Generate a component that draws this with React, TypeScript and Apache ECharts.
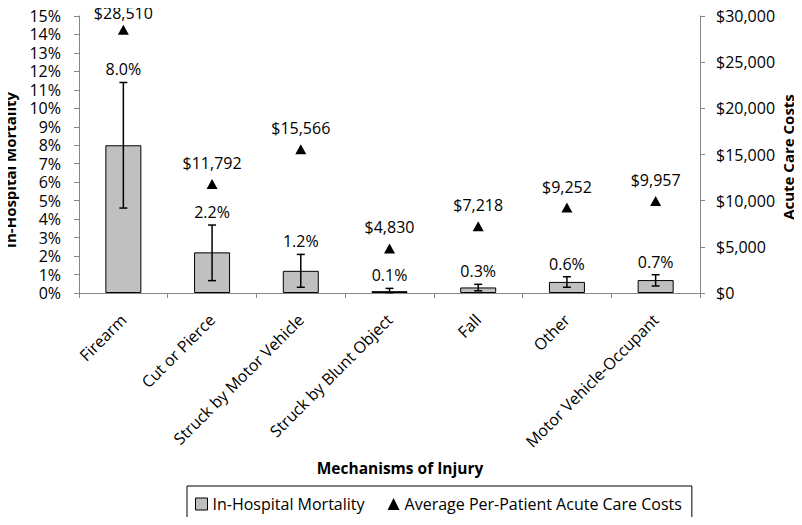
import React, { useEffect, useRef } from "react";
import * as echarts from "echarts";

const categories = [
  "Firearm",
  "Cut or Pierce",
  "Struck by Motor Vehicle",
  "Struck by Blunt Object",
  "Fall",
  "Other",
  "Motor Vehicle-Occupant",
];
const mortality = [8.0, 2.2, 1.2, 0.1, 0.3, 0.6, 0.7];
const errLow = [4.6, 0.67, 0.31, 0.02, 0.12, 0.31, 0.38];
const errHigh = [11.4, 3.68, 2.09, 0.25, 0.47, 0.88, 0.99];
const costs = [28510, 11792, 15566, 4830, 7218, 9252, 9957];

const FONT = "'Open Sans', 'Noto Sans', sans-serif";
const AXIS_GRAY = "#868686";

export default function App() {
  const ref = useRef<HTMLDivElement>(null);
  useEffect(() => {
    if (!ref.current) return;
    const chart = echarts.init(ref.current, null, { renderer: "svg" });
    const fmtMoney = (v: number) => "$" + Math.round(v).toLocaleString("en-US");
    chart.setOption({
      animation: false,
      backgroundColor: "#fff",
      textStyle: { fontFamily: FONT, color: "#000" },
      grid: { left: 79, right: 102, top: 16, bottom: 232 },
      legend: {
        left: 187,
        top: 486,
        orient: "horizontal",
        borderColor: "#000",
        borderWidth: 1,
        padding: [10, 10, 10, 8],
        itemGap: 23,
        itemWidth: 12,
        itemHeight: 12,
        textStyle: { fontFamily: FONT, fontSize: 16, color: "#000" },
        data: [
          { name: "In-Hospital Mortality", icon: "rect", itemStyle: { color: "#c0c0c0", borderColor: "#000", borderWidth: 1 } },
          { name: "Average Per-Patient Acute Care Costs", icon: "triangle", itemStyle: { color: "#000", opacity: 1 } },
        ],
      },
      xAxis: {
        type: "category",
        data: categories,
        axisLine: { lineStyle: { color: AXIS_GRAY, width: 1 } },
        axisTick: { show: true, length: 5, lineStyle: { color: AXIS_GRAY } },
        axisLabel: { rotate: 45, fontSize: 16, fontFamily: FONT, color: "#000", margin: 24, interval: 0 },
      },
      yAxis: [
        {
          type: "value",
          min: 0,
          max: 15,
          interval: 1,
          axisLine: { show: true, lineStyle: { color: AXIS_GRAY } },
          axisTick: { show: true, length: 5, lineStyle: { color: AXIS_GRAY } },
          splitLine: { show: false },
          axisLabel: { formatter: "{value}%", fontSize: 16, fontFamily: FONT, color: "#000", margin: 18 },
        },
        {
          type: "value",
          min: 0,
          max: 30000,
          interval: 5000,
          position: "right",
          axisLine: { show: true, lineStyle: { color: AXIS_GRAY } },
          axisTick: { show: true, length: 5, lineStyle: { color: AXIS_GRAY } },
          splitLine: { show: false },
          axisLabel: { formatter: (v: number) => fmtMoney(v), fontSize: 16, fontFamily: FONT, color: "#000", margin: 16 },
        },
      ],
      graphic: [
        {
          type: "text",
          x: 400,
          y: 468,
          style: {
            text: "Mechanisms of Injury",
            fontFamily: FONT,
            fontSize: 15.5,
            fontWeight: "bold",
            fill: "#000",
            align: "center",
            verticalAlign: "middle",
          },
        },
        {
          type: "text",
          x: 10,
          y: 170,
          rotation: Math.PI / 2,
          style: {
            text: "In-Hospital Mortality",
            fontFamily: FONT,
            fontSize: 15,
            fontWeight: "bold",
            fill: "#000",
            align: "center",
            verticalAlign: "middle",
          },
        },
        {
          type: "text",
          x: 788,
          y: 157,
          rotation: Math.PI / 2,
          style: {
            text: "Acute Care Costs",
            fontFamily: FONT,
            fontSize: 15,
            fontWeight: "bold",
            fill: "#000",
            align: "center",
            verticalAlign: "middle",
          },
        },
      ],
      series: [
        {
          name: "In-Hospital Mortality",
          type: "bar",
          data: mortality,
          barWidth: 36,
          itemStyle: { color: "#c0c0c0", borderColor: "#000", borderWidth: 1 },
          z: 2,
        },
        {
          name: "errors",
          type: "custom",
          data: categories.map((_, i) => [i, errLow[i], errHigh[i], mortality[i]]),
          encode: { x: 0, y: [1, 2] },
          z: 3,
          renderItem: (params: any, api: any) => {
            const i = api.value(0);
            const lo = api.coord([i, api.value(1)]);
            const hi = api.coord([i, api.value(2)]);
            const x = hi[0];
            const cap = 4;
            const style = { stroke: "#000", lineWidth: 1.5 };
            return {
              type: "group",
              children: [
                { type: "line", shape: { x1: x, y1: hi[1], x2: x, y2: lo[1] }, style },
                { type: "line", shape: { x1: x - cap, y1: hi[1], x2: x + cap, y2: hi[1] }, style },
                { type: "line", shape: { x1: x - cap, y1: lo[1], x2: x + cap, y2: lo[1] }, style },
                {
                  type: "text",
                  x: x,
                  y: hi[1] - 5,
                  style: {
                    text: api.value(3).toFixed(1) + "%",
                    fontFamily: FONT,
                    fontSize: 16,
                    fill: "#000",
                    align: "center",
                    verticalAlign: "bottom",
                  },
                },
              ],
            };
          },
        },
        {
          name: "Average Per-Patient Acute Care Costs",
          type: "scatter",
          yAxisIndex: 1,
          data: costs.map((v, i) => (i === 0 ? { value: v, label: { distance: 4 } } : v)),
          symbol: "triangle",
          symbolSize: [11, 10],
          itemStyle: { color: "#000", opacity: 1 },
          z: 4,
          label: {
            show: true,
            position: "top",
            distance: 8,
            fontFamily: FONT,
            fontSize: 16,
            color: "#000",
            formatter: (p: any) => fmtMoney(p.value),
          },
        },
      ],
    });
    return () => chart.dispose();
  }, []);
  return <div ref={ref} style={{ width: 802, height: 525, margin: -8 }} />;
}
